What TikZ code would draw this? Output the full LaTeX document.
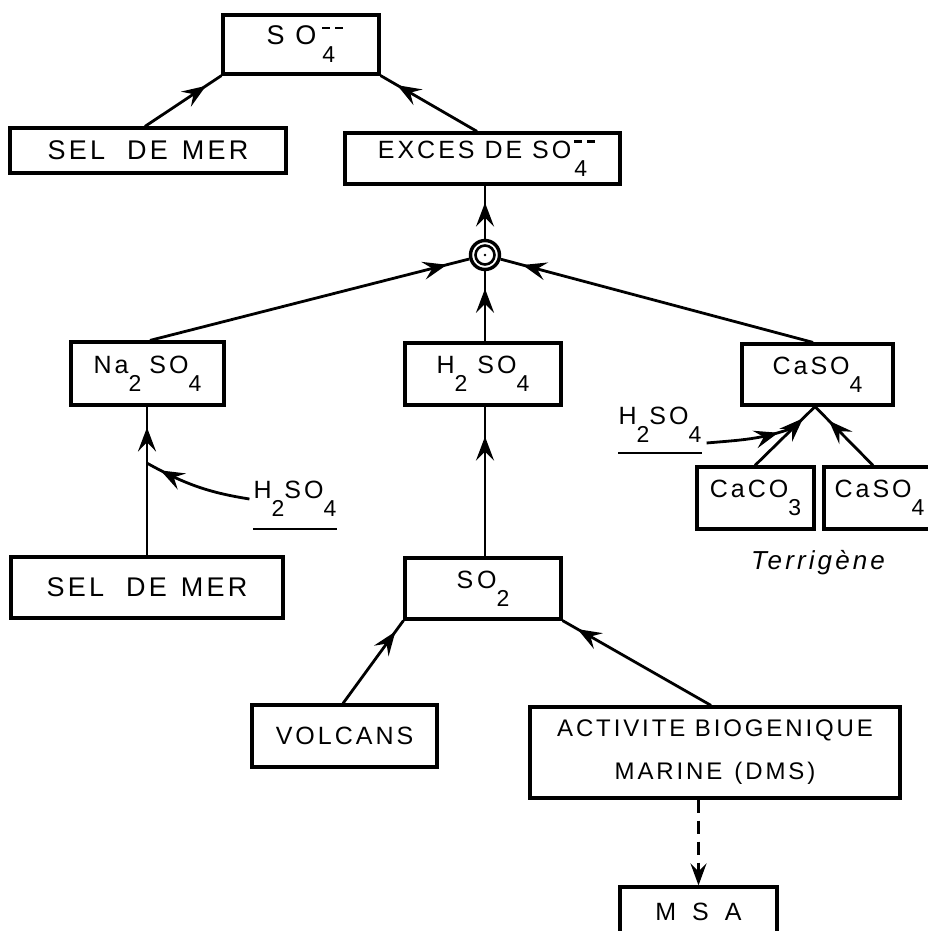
\documentclass[tikz,border=0pt]{standalone}
\usepackage{fontspec}
\setmainfont{Liberation Sans}[LetterSpace=12]
\usetikzlibrary{arrows.meta,decorations.markings,calc}
\newcommand\lo[1]{\raisebox{-18pt}{\fontsize{23pt}{23pt}\selectfont #1}}
\newcommand\mm{\raisebox{16pt}{\rule{8pt}{2.4pt}\hspace{5pt}\rule{8pt}{2.4pt}}}
\newcommand\fs{\fontsize{25pt}{29pt}\selectfont}
\newcommand\fb{\fontsize{27pt}{30pt}\selectfont}
\begin{document}
\begin{tikzpicture}[x=1pt,y=-1pt,
  bx/.style={draw, line width=3.2pt, rectangle, inner sep=0pt, font=\fs},
  ln/.style={line width=2.8pt},
  lbl/.style={inner sep=0pt, font=\fs},
  tipa/.style={postaction={decorate, decoration={markings,
     mark=at position #1 with {\arrow{Stealth[length=24pt,width=18pt,inset=9pt]}}}}},
  dsh/.style={line width=2.8pt, dash pattern=on 13pt off 8pt}]
\path[use as bounding box] (0,0) rectangle (928,931);
\clip (0,0) rectangle (928,931);

% boxes
\node[bx, font=\fb, minimum width=156pt, minimum height=59pt] (so4top) at (301,44.5) {S O\hspace{6pt}\rlap{\mm}\lo{4}};
\node[bx, font=\fb, minimum width=276pt, minimum height=45pt] (selA) at (148,150.5) {SEL\hspace{22pt}DE\hspace{14pt}MER};
\node[bx, minimum width=275pt, minimum height=51pt] (exces) at (482.5,158.5) {EXCES DE SO\hspace{3pt}\rlap{\mm}\lo{4}};
\node[circle, draw, line width=3.4pt, minimum size=29pt, inner sep=0pt] (circ) at (485,255) {};
\draw[line width=2.6pt] (circ.center) circle (9.5pt);
\fill (circ.center) circle (1.4pt);

\node[bx, minimum width=153pt, minimum height=63pt] (na2so4) at (147.5,373.5) {Na\lo{2}\hspace{8pt}SO\lo{4}};
\node[bx, minimum width=156pt, minimum height=62pt] (h2so4) at (483,374) {H\lo{2}\hspace{10pt}SO\lo{4}};
\node[bx, minimum width=151pt, minimum height=61pt] (caso4) at (817.5,374.5) {Ca\hspace{3pt}SO\lo{4}};
\node[bx, minimum width=117pt, minimum height=62pt] (caco3) at (755.5,498) {Ca\hspace{3pt}CO\lo{3}};
\node[bx, minimum width=111pt, minimum height=62pt] (caso4b) at (879.5,498) {Ca\hspace{3pt}SO\lo{4}};
\node[bx, font=\fb, minimum width=272pt, minimum height=61pt] (selB) at (147,587.5) {SEL\hspace{22pt}DE\hspace{14pt}MER};
\node[bx, minimum width=156pt, minimum height=61pt] (so2) at (483,588.5) {S\hspace{4pt}O\lo{2}};
\node[bx, minimum width=185pt, minimum height=62pt] (volcans) at (344.5,736) {VOLCANS};
\node[bx, align=center, font=\fontsize{24pt}{43pt}\selectfont, minimum width=370pt, minimum height=91pt] (activite) at (715,752.5) {ACTIVITE BIOGENIQUE\\MARINE\hspace{12pt}(DMS)};
\node[bx, minimum width=157pt, minimum height=50pt] (msa) at (698.5,912) {M\hspace{16pt}S\hspace{16pt}A};

% labels
\node[lbl, font=\fontsize{26pt}{30pt}\selectfont\itshape] (terr) at (818,563) {Terrigène};
\node[lbl] (h2a) at (295,499) {H\lo{2}SO\lo{4}};
\node[lbl] (h2b) at (660,425) {H\lo{2}SO\lo{4}};
\draw[ln] ([yshift=-12pt]h2a.south west) -- ([yshift=-12pt]h2a.south east);
\draw[ln] ([yshift=-10pt]h2b.south west) -- ([yshift=-10pt]h2b.south east);

% connectors
\draw[ln, tipa=0.8] ([xshift=-3pt]selA.north) -- (so4top.south west);
\draw[ln, tipa=0.83] ([xshift=-5.5pt]exces.north) -- (so4top.south east);
\draw[ln, tipa=0.68] (circ.north) -- (circ.north |- exces.south);
\draw[ln, tipa=0.93] ([xshift=2.5pt]na2so4.north) -- (circ);
\draw[ln, tipa=0.75] (circ.south |- h2so4.north) -- (circ.south);
\draw[ln, tipa=0.93] ([xshift=-4.5pt]caso4.north) -- (circ);

\draw[ln, tipa=0.86] (selB.north) -- (selB.north |- na2so4.south);
\coordinate (j1) at ($(selB.north)!0.62!(selB.north |- na2so4.south)$);
\draw[ln, tipa=0.86] ([xshift=-4pt]h2a.west) to[out=171,in=-29] (j1);

\draw[ln, tipa=0.8] ([xshift=-0.5pt]caco3.north) -- ([xshift=-2.5pt]caso4.south);
\draw[ln, tipa=0.76] ([xshift=-6.5pt]caso4b.north) -- ([xshift=-2.5pt]caso4.south);
\coordinate (j2) at ($([xshift=-0.5pt]caco3.north)!0.64!([xshift=-2.5pt]caso4.south)$);
\draw[ln, tipa=0.82] ([xshift=5pt,yshift=-18pt]h2b.east) to[out=5,in=200] (j2);

\draw[ln, tipa=0.8] (so2.north -| circ.south) -- (h2so4.south -| circ.south);
\draw[ln, tipa=0.87] ([xshift=-1.5pt]volcans.north) -- (so2.south west);
\draw[ln, tipa=0.9] ([xshift=-4pt]activite.north) -- (so2.south east);
\draw[dsh, -{Stealth[length=22pt,width=16pt,inset=8pt]}] (activite.south -| msa.north) -- (msa.north);
\end{tikzpicture}
\end{document}
